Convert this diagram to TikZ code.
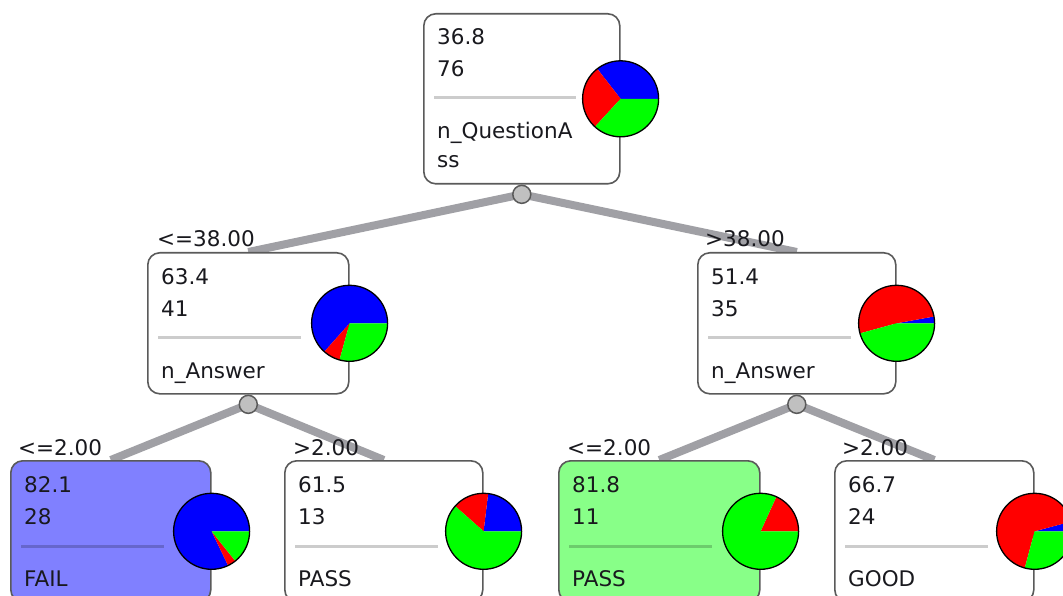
\documentclass[tikz,border=0pt]{standalone}
\usepackage{fontspec}
\setmainfont{DejaVu Sans}
\usetikzlibrary{positioning,backgrounds}

\definecolor{edgegray}{RGB}{160,160,165}
\definecolor{boxline}{RGB}{90,90,90}
\definecolor{failfill}{RGB}{128,128,255}
\definecolor{passfill}{RGB}{136,255,136}
\definecolor{dotfill}{RGB}{192,192,192}
\definecolor{txtcol}{RGB}{25,25,30}

\begin{document}
\begin{tikzpicture}[x=1pt,y=1pt,
    font=\fontsize{21.5}{26}\selectfont, text=txtcol,
    treebox/.style={draw=boxline, line width=1.6pt, fill=white, rounded corners=12pt,
        minimum width=198pt, minimum height=141pt, anchor=north west, inner sep=0pt},
    txt/.style={anchor=base west, inner sep=0pt},
    sep/.style={draw=black, opacity=0.2, line width=3pt},
    branch/.style={draw=edgegray, line width=8pt},
    splitdot/.style={circle, draw=boxline, fill=dotfill, line width=1.5pt,
        minimum size=18pt, inner sep=0pt},
    pierim/.style={draw=black, line width=1.3pt}]
    \clip (0,0) rectangle (1063,-596);

    % boxes
    \node[treebox, minimum width=196pt, minimum height=170pt] (root) at (423,-13) {};
    \node[treebox, minimum width=201pt] (lc) at (147,-252) {};
    \node[treebox] (rc) at (697,-252) {};
    \node[treebox, fill=failfill, minimum width=200pt] (fail) at (10,-460) {};
    \node[treebox] (passa) at (284,-460) {};
    \node[treebox, fill=passfill, minimum width=201pt] (passb) at (558,-460) {};
    \node[treebox, minimum width=199pt] (good) at (834,-460) {};

    % split points
    \node[splitdot, below=0pt of root] (rootdot) {};
    \node[splitdot, below=0pt of lc] (lcdot) {};
    \node[splitdot, below=0pt of rc] (rcdot) {};

    % branches, behind the boxes
    \begin{pgfonlayer}{background}
        \fill[white] (0,0) rectangle (1063,-596);
        \path[branch] (rootdot.center) -- (lc.north);
        \path[branch] (rootdot.center) -- (rc.north);
        \path[branch] (lcdot.center) -- (fail.north);
        \path[branch] (lcdot.center) -- (passa.north);
        \path[branch] (rcdot.center) -- (passb.north);
        \path[branch] (rcdot.center) -- (good.north);
    \end{pgfonlayer}

    % root
    \node[txt] (roottop) at (437,-45) {36.8};
    \node[txt] (rootn) at (437,-77) {76};
    \draw[sep] (434,-98) -- (576,-98);
    \node[txt] (rootattr) at (437,-139) {n\_QuestionA};
    \node[txt] (rootattrb) at (437,-168) {ss};

    % left child
    \node[txt] (lctop) at (161,-284) {63.4};
    \node[txt] (lcn) at (161,-316) {41};
    \draw[sep] (158,-337) -- (301,-337);
    \node[txt] (lcattr) at (161,-378) {n\_Answer};

    % right child
    \node[txt] (rctop) at (711,-284) {51.4};
    \node[txt] (rcn) at (711,-316) {35};
    \draw[sep] (708,-337) -- (851,-337);
    \node[txt] (rcattr) at (711,-378) {n\_Answer};

    % leaves
    \node[txt] (failtop) at (24,-492) {82.1};
    \node[txt] (failn) at (24,-524) {28};
    \draw[sep] (21,-546) -- (164,-546);
    \node[txt] (failcls) at (24,-586) {FAIL};

    \node[txt] (passatop) at (298,-492) {61.5};
    \node[txt] (passan) at (298,-524) {13};
    \draw[sep] (295,-546) -- (438,-546);
    \node[txt] (passacls) at (298,-586) {PASS};

    \node[txt] (passbtop) at (572,-492) {81.8};
    \node[txt] (passbn) at (572,-524) {11};
    \draw[sep] (569,-546) -- (712,-546);
    \node[txt] (passbcls) at (572,-586) {PASS};

    \node[txt] (goodtop) at (848,-492) {66.7};
    \node[txt] (goodn) at (848,-524) {24};
    \draw[sep] (845,-546) -- (988,-546);
    \node[txt] (goodcls) at (848,-586) {GOOD};

    % branch labels
    \node[txt] (lclab) at (157,-247) {<=38.00};
    \node[txt] (rclab) at (705,-247) {>38.00};
    \node[txt] (faillab) at (18,-455) {<=2.00};
    \node[txt] (passalab) at (293,-455) {>2.00};
    \node[txt] (passblab) at (567,-455) {<=2.00};
    \node[txt] (goodlab) at (842,-455) {>2.00};

    % pies
    \foreach \nd/\sl in {root/{0/127.9/blue,127.9/227.4/red,227.4/360/green},
                         lc/{0/228.3/blue,228.3/254.6/red,254.6/360/green},
                         rc/{0/10.3/blue,10.3/195.4/red,195.4/360/green},
                         fail/{0/295.7/blue,295.7/308.6/red,308.6/360/green},
                         passa/{0/83.1/blue,83.1/138.5/red,138.5/360/green},
                         passb/{0/65.5/red,65.5/360/green},
                         good/{0/15/blue,15/255/red,255/360/green}}{
        \foreach \a/\b/\c in \sl
            \fill[\c] (\nd.east) -- ++(\a:38) arc[start angle=\a, end angle=\b, radius=38] -- cycle;
        \draw[pierim] (\nd.east) circle (38);
    }
\end{tikzpicture}
\end{document}
